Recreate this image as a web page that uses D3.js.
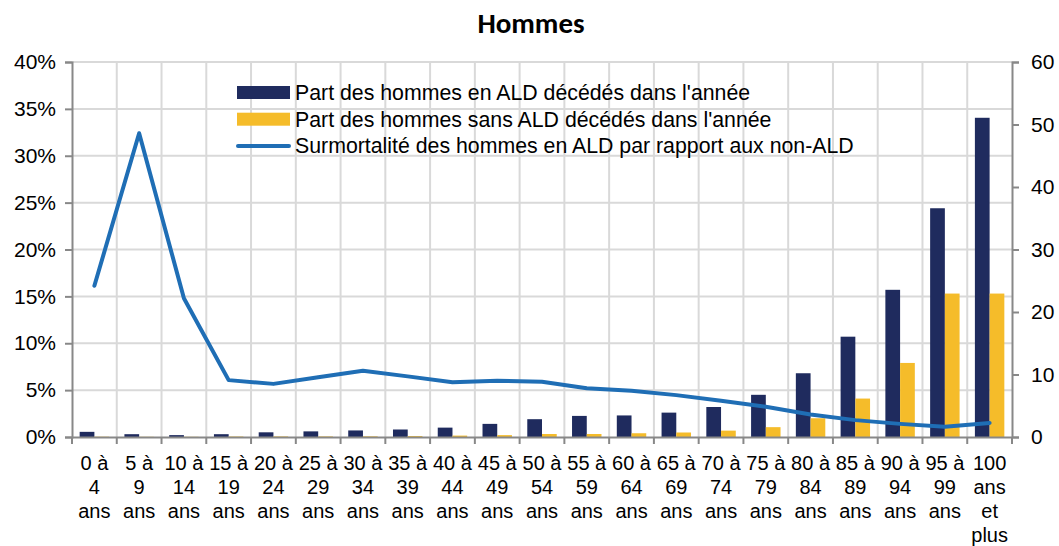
<!DOCTYPE html>
<html>
<head>
<meta charset="utf-8">
<script src="https://cdn.jsdelivr.net/npm/d3@7"></script>
<style>
  body { margin: 0; background: #fff; }
  text { font-family: "Liberation Sans", Arial, sans-serif; fill: #000; }
</style>
</head>
<body>
<svg id="chart" width="1059" height="546"></svg>
<script>
// categories (age groups), each label split into lines
var categories = ["0 à 4 ans", "5 à 9 ans", "10 à 14 ans", "15 à 19 ans", "20 à 24 ans",
    "25 à 29 ans", "30 à 34 ans", "35 à 39 ans", "40 à 44 ans", "45 à 49 ans", "50 à 54 ans",
    "55 à 59 ans", "60 à 64 ans", "65 à 69 ans", "70 à 74 ans", "75 à 79 ans", "80 à 84 ans",
    "85 à 89 ans", "90 à 94 ans", "95 à 99 ans", "100 ans et plus"];
var categoryLines = [["0 à", "4", "ans"], ["5 à", "9", "ans"], ["10 à", "14", "ans"],
    ["15 à", "19", "ans"], ["20 à", "24", "ans"], ["25 à", "29", "ans"], ["30 à", "34", "ans"],
    ["35 à", "39", "ans"], ["40 à", "44", "ans"], ["45 à", "49", "ans"], ["50 à", "54", "ans"],
    ["55 à", "59", "ans"], ["60 à", "64", "ans"], ["65 à", "69", "ans"], ["70 à", "74", "ans"],
    ["75 à", "79", "ans"], ["80 à", "84", "ans"], ["85 à", "89", "ans"], ["90 à", "94", "ans"],
    ["95 à", "99", "ans"], ["100", "ans", "et", "plus"]];

// part des hommes en ALD décédés (%)
var partALD = [0.55, 0.3, 0.2, 0.3, 0.5, 0.6, 0.7, 0.8, 1.0, 1.4, 1.9,
    2.25, 2.3, 2.6, 3.2, 4.5, 6.8, 10.7, 15.7, 24.4, 34.05];
// part des hommes sans ALD décédés (%)
var partSansALD = [0.03, 0.02, 0.02, 0.05, 0.06, 0.06, 0.07, 0.1, 0.15, 0.2, 0.32,
    0.32, 0.4, 0.48, 0.68, 1.05, 2.0, 4.1, 7.9, 15.3, 15.3];
// surmortalité (axe de droite)
var surmortalite = [24.2, 48.6, 22.2, 9.1, 8.5, 9.55, 10.6, 9.7, 8.75, 9.0, 8.85,
    7.8, 7.4, 6.7, 5.8, 4.85, 3.6, 2.7, 2.1, 1.65, 2.25];

var leftTicks = [0, 5, 10, 15, 20, 25, 30, 35, 40];
var rightTicks = [0, 10, 20, 30, 40, 50, 60];

var legendLabels = ["Part des hommes en ALD décédés dans l'année",
    "Part des hommes sans ALD décédés dans l'année",
    "Surmortalité des hommes en ALD par rapport aux non-ALD"];

var colDark = "#1f2b5e", colYellow = "#f5bc2a", colLine = "#1f6eb5";
var axisCol = "#888888", gridCol = "#d9d9d9";

var margin = {left: 72, right: 47, top: 62, bottom: 109};
var width = 1059, height = 546;
var svg = d3.select("#chart");

var x = d3.scaleBand()
    .domain(categories)
    .range([margin.left, width - margin.right])
    .padding(0);

var xs = d3.scaleBand()
    .domain(["ald", "sans"])
    .range([0, x.bandwidth()])
    .paddingInner(0)
    .paddingOuter(0.52);

var yL = d3.scaleLinear().domain([0, 40]).range([height - margin.bottom, margin.top]);
var yR = d3.scaleLinear().domain([0, 60]).range([height - margin.bottom, margin.top]);

// title
svg.append("text")
    .attr("x", 531).attr("y", 33)
    .attr("text-anchor", "middle")
    .style("font-family", "Carlito, Lato, 'Open Sans', sans-serif")
    .style("font-weight", "bold")
    .style("font-size", "29px")
    .text("Hommes");

// grid
var grid = svg.append("g");
grid.selectAll("line.h")
    .data(leftTicks.slice(1))
    .enter().append("line")
    .attr("x1", margin.left).attr("x2", width - margin.right)
    .attr("y1", function(d) { return yL(d); })
    .attr("y2", function(d) { return yL(d); })
    .attr("stroke", gridCol).attr("stroke-width", 2);
grid.selectAll("line.v")
    .data(categories.slice(1))
    .enter().append("line")
    .attr("x1", function(d) { return x(d); })
    .attr("x2", function(d) { return x(d); })
    .attr("y1", margin.top).attr("y2", height - margin.bottom)
    .attr("stroke", gridCol).attr("stroke-width", 2);

// bars
var bars = svg.append("g");
bars.selectAll("rect.ald")
    .data(partALD)
    .enter().append("rect")
    .attr("x", function(d, i) { return x(categories[i]) + xs("ald"); })
    .attr("width", xs.bandwidth())
    .attr("y", function(d) { return yL(d); })
    .attr("height", function(d) { return yL(0) - yL(d); })
    .attr("fill", colDark);
bars.selectAll("rect.sans")
    .data(partSansALD)
    .enter().append("rect")
    .attr("x", function(d, i) { return x(categories[i]) + xs("sans"); })
    .attr("width", xs.bandwidth())
    .attr("y", function(d) { return yL(d); })
    .attr("height", function(d) { return yL(0) - yL(d); })
    .attr("fill", colYellow);

// axes
var axL = svg.append("g")
    .attr("transform", "translate(" + margin.left + ",0)")
    .call(d3.axisLeft(yL).tickValues(leftTicks).tickSize(7).tickPadding(9)
        .tickFormat(function(d) { return d + "%"; }));
var axR = svg.append("g")
    .attr("transform", "translate(" + (width - margin.right) + ",0)")
    .call(d3.axisRight(yR).tickValues(rightTicks).tickSize(7).tickPadding(12));
var axB = svg.append("g")
    .attr("transform", "translate(0," + (height - margin.bottom) + ")")
    .call(d3.axisBottom(x).tickSize(0).tickFormat(""));
axB.selectAll(".tick").remove();
axB.selectAll("line.bt")
    .data(categories.concat(["end"]))
    .enter().append("line")
    .attr("x1", function(d, i) { return margin.left + i * x.step(); })
    .attr("x2", function(d, i) { return margin.left + i * x.step(); })
    .attr("y1", 0).attr("y2", 7)
    .attr("stroke", axisCol).attr("stroke-width", 2);

[axL, axR, axB].forEach(function(a) {
    a.select(".domain").attr("stroke", axisCol).attr("stroke-width", 2);
    a.selectAll(".tick line").attr("stroke", axisCol).attr("stroke-width", 2);
    a.selectAll(".tick text")
        .style("font-family", "'Liberation Sans', Arial, sans-serif")
        .style("font-size", "21px").attr("fill", "#000");
});

// category labels
var xl = svg.append("g");
categoryLines.forEach(function(lines, i) {
    var t = xl.append("text")
        .attr("text-anchor", "middle")
        .style("font-size", "20px");
    lines.forEach(function(l, j) {
        t.append("tspan")
            .attr("x", x(categories[i]) + x.bandwidth() / 2)
            .attr("y", 470 + j * 24)
            .text(l);
    });
});

// line
var line = d3.line()
    .x(function(d, i) { return x(categories[i]) + x.bandwidth() / 2; })
    .y(function(d) { return yR(d); });
svg.append("path")
    .datum(surmortalite)
    .attr("d", line)
    .attr("fill", "none")
    .attr("stroke", colLine)
    .attr("stroke-width", 4)
    .attr("stroke-linecap", "round")
    .attr("stroke-linejoin", "round");

// legend
var leg = svg.append("g").attr("transform", "translate(237,92.5)");
var legRowH = 26.7;
leg.append("rect").attr("x", 0).attr("y", -6.5).attr("width", 53).attr("height", 13).attr("fill", colDark);
leg.append("rect").attr("x", 0).attr("y", legRowH - 6.5).attr("width", 53).attr("height", 13).attr("fill", colYellow);
leg.append("line").attr("x1", 1).attr("x2", 52)
    .attr("y1", legRowH * 2).attr("y2", legRowH * 2)
    .attr("stroke", colLine).attr("stroke-width", 4).attr("stroke-linecap", "round");
leg.selectAll("text.lg")
    .data(legendLabels)
    .enter().append("text")
    .attr("x", 58)
    .attr("y", function(d, i) { return i * legRowH; })
    .attr("dy", "0.35em")
    .style("font-size", "21.3px")
    .text(function(d) { return d; });
</script>
</body>
</html>
